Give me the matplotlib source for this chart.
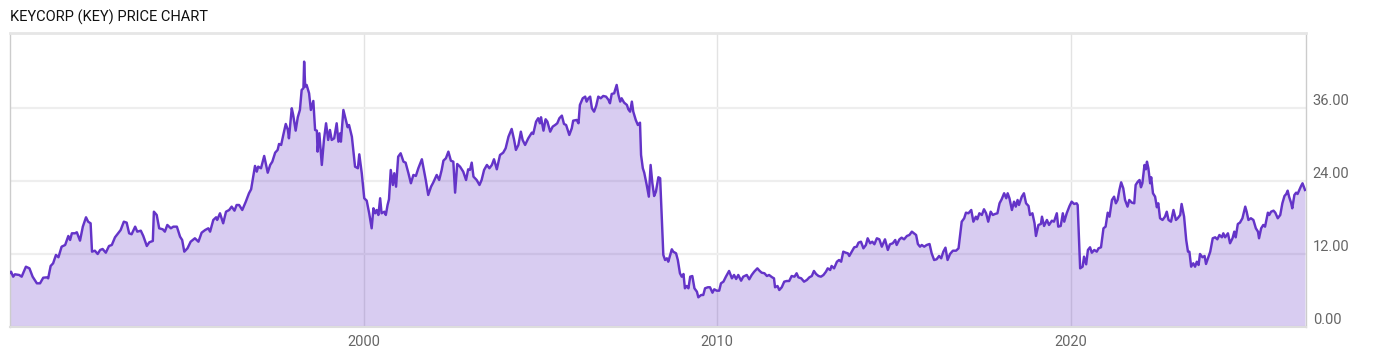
import numpy as np
import matplotlib
matplotlib.use("Agg")
import matplotlib.pyplot as plt

# --- KeyCorp price (decimal year, USD) ---
yrs_a = [1990.00, 1990.03, 1990.09, 1990.14, 1990.26, 1990.33, 1990.45, 1990.55, 1990.64, 1990.76,
         1990.85, 1990.94, 1991.04, 1991.08, 1991.15, 1991.22, 1991.30, 1991.37, 1991.46, 1991.56,
         1991.65, 1991.70, 1991.75, 1991.84, 1991.89, 1991.98, 1992.06, 1992.15, 1992.21, 1992.28,
         1992.32, 1992.40, 1992.48, 1992.55, 1992.62, 1992.71, 1992.80, 1992.88, 1992.97, 1993.06,
         1993.13, 1993.22, 1993.30, 1993.37, 1993.44, 1993.54, 1993.60, 1993.70, 1993.77, 1993.87,
         1993.94, 1994.04, 1994.07, 1994.15, 1994.22, 1994.32, 1994.38, 1994.45, 1994.55, 1994.62,
         1994.72, 1994.81, 1994.87, 1994.93, 1995.02, 1995.11, 1995.23, 1995.33, 1995.42, 1995.52,
         1995.61, 1995.66, 1995.75, 1995.83, 1995.86, 1995.94, 1996.03, 1996.11, 1996.20]
px_a = [8.90, 9.09, 8.27, 8.66, 8.55, 8.27, 9.91, 9.64, 8.27, 7.18,
        7.18, 8.10, 8.16, 8.00, 10.03, 10.47, 11.84, 11.46, 13.20, 13.48,
        14.96, 14.30, 15.40, 15.40, 15.57, 14.19, 16.49, 18.03, 17.31, 17.04,
        12.38, 12.54, 12.00, 12.66, 12.82, 12.21, 13.31, 13.48, 14.74, 15.40,
        15.94, 17.31, 17.15, 15.40, 15.24, 16.49, 15.67, 15.83, 14.96, 13.31,
        13.92, 14.14, 18.95, 18.41, 16.22, 16.06, 15.67, 16.77, 16.22, 16.49,
        16.49, 14.85, 14.30, 12.38, 12.93, 14.02, 14.58, 14.02, 15.50, 15.94,
        16.22, 15.67, 17.59, 18.03, 17.59, 18.69, 17.04, 18.95, 19.23]

yrs_b = [1996.27, 1996.35, 1996.41, 1996.48, 1996.57, 1996.67, 1996.76, 1996.82, 1996.88, 1996.93,
         1996.98, 1997.02, 1997.10, 1997.19, 1997.29, 1997.36, 1997.42, 1997.50, 1997.57, 1997.61,
         1997.67, 1997.73, 1997.80, 1997.86, 1997.89, 1997.97, 1998.01, 1998.08, 1998.14, 1998.20,
         1998.25, 1998.30, 1998.32, 1998.35, 1998.39, 1998.46, 1998.51, 1998.58, 1998.63, 1998.68,
         1998.70, 1998.75, 1998.82, 1998.88, 1998.94, 1999.00, 1999.05, 1999.10, 1999.17, 1999.24,
         1999.29, 1999.34, 1999.36, 1999.43, 1999.50, 1999.55, 1999.59, 1999.67, 1999.76, 1999.84,
         1999.88, 1999.95, 2000.02, 2000.09, 2000.16, 2000.23, 2000.28, 2000.33, 2000.37, 2000.42,
         2000.47, 2000.51, 2000.59, 2000.63, 2000.68, 2000.72, 2000.77, 2000.83, 2000.87, 2000.92,
         2000.98, 2001.05, 2001.13, 2001.19, 2001.27, 2001.34, 2001.41, 2001.48, 2001.55, 2001.65,
         2001.69, 2001.76, 2001.83, 2001.91, 2001.97, 2002.07, 2002.14]
px_b = [19.78, 19.12, 20.05, 20.05, 19.23, 20.60, 21.98, 22.63, 24.71, 26.47,
        25.53, 26.35, 26.09, 28.11, 25.36, 26.63, 27.17, 28.65, 29.10, 30.08,
        29.92, 31.56, 33.37, 32.38, 31.01, 35.95, 34.85, 32.27, 34.47, 35.67,
        38.96, 39.24, 43.61, 39.50, 39.78, 38.41, 35.67, 37.15, 32.38, 32.27,
        28.82, 31.84, 26.63, 30.74, 33.48, 30.74, 32.38, 30.74, 31.01, 33.48,
        30.46, 31.84, 30.46, 35.67, 34.03, 32.83, 33.20, 31.28, 26.35, 26.09,
        28.38, 25.27, 21.16, 20.76, 18.69, 16.22, 19.51, 18.69, 19.23, 18.41,
        21.16, 18.69, 18.95, 18.41, 20.05, 20.99, 25.81, 23.34, 25.27, 23.06,
        27.99, 28.55, 27.17, 27.01, 25.27, 23.62, 24.99, 24.82, 26.09, 27.57,
        26.35, 24.16, 21.70, 23.06, 23.72, 24.99, 24.16]

yrs_c = [2002.21, 2002.26, 2002.33, 2002.40, 2002.47, 2002.54, 2002.59, 2002.65, 2002.73, 2002.82,
         2002.90, 2002.96, 2003.01, 2003.06, 2003.11, 2003.20, 2003.28, 2003.34, 2003.41, 2003.49,
         2003.56, 2003.63, 2003.69, 2003.77, 2003.86, 2003.95, 2004.02, 2004.10, 2004.19, 2004.26,
         2004.31, 2004.38, 2004.45, 2004.50, 2004.57, 2004.66, 2004.76, 2004.80, 2004.88, 2004.94,
         2004.99, 2005.02, 2005.09, 2005.15, 2005.20, 2005.28, 2005.35, 2005.42, 2005.48, 2005.54,
         2005.61, 2005.67, 2005.73, 2005.82, 2005.89, 2005.93, 2006.03, 2006.08, 2006.12, 2006.20,
         2006.27, 2006.31, 2006.36, 2006.41, 2006.46, 2006.52, 2006.58, 2006.64, 2006.71, 2006.78,
         2006.86, 2006.93, 2006.97, 2007.02, 2007.09, 2007.11, 2007.16, 2007.21, 2007.26, 2007.30,
         2007.37, 2007.45, 2007.49, 2007.54, 2007.59, 2007.63, 2007.70, 2007.76, 2007.82, 2007.85,
         2007.90, 2007.94, 2008.01, 2008.07, 2008.12, 2008.17, 2008.22, 2008.27, 2008.34, 2008.39]
px_c = [25.80, 27.34, 27.73, 28.82, 27.34, 27.17, 22.08, 26.79, 26.35, 25.53,
        24.16, 25.92, 25.81, 27.01, 24.71, 24.16, 23.34, 24.16, 25.81, 26.63,
        26.09, 26.63, 27.57, 25.92, 28.27, 28.65, 29.37, 31.28, 32.55, 30.74,
        29.10, 29.92, 32.10, 30.74, 29.92, 31.01, 31.94, 31.73, 33.75, 34.31,
        33.48, 34.47, 32.27, 34.14, 33.75, 32.10, 32.93, 33.20, 33.48, 34.31,
        34.74, 33.37, 33.20, 31.56, 32.66, 33.91, 34.03, 33.48, 36.49, 37.59,
        37.86, 37.04, 37.59, 37.86, 35.95, 35.39, 36.33, 37.86, 37.59, 37.97,
        37.86, 37.31, 36.77, 38.30, 38.41, 38.84, 39.78, 38.14, 37.04, 37.59,
        36.88, 36.49, 35.78, 35.39, 37.04, 35.39, 34.03, 33.20, 33.58, 28.27,
        26.09, 25.36, 23.34, 21.42, 26.63, 23.62, 21.53, 22.24, 24.61, 24.44]

yrs_d = [2008.48, 2008.53, 2008.58, 2008.62, 2008.72, 2008.76, 2008.84, 2008.89, 2008.95, 2009.00,
         2009.05, 2009.09, 2009.14, 2009.19, 2009.24, 2009.30, 2009.36, 2009.43, 2009.47, 2009.55,
         2009.61, 2009.66, 2009.74, 2009.80, 2009.87, 2009.92, 2009.99, 2010.06, 2010.11, 2010.18,
         2010.25, 2010.34, 2010.42, 2010.48, 2010.54, 2010.60, 2010.68, 2010.74, 2010.84, 2010.91,
         2010.98, 2011.05, 2011.14, 2011.20, 2011.26, 2011.34, 2011.41, 2011.47, 2011.56, 2011.61,
         2011.64, 2011.71, 2011.76, 2011.83, 2011.90, 2011.97, 2012.04, 2012.11, 2012.19, 2012.25,
         2012.30, 2012.38, 2012.46, 2012.54, 2012.61, 2012.68, 2012.74, 2012.80, 2012.87, 2012.94,
         2013.01, 2013.08, 2013.13, 2013.20, 2013.24, 2013.31, 2013.39, 2013.45, 2013.51, 2013.57,
         2013.64, 2013.70, 2013.74, 2013.81, 2013.88, 2013.95, 2014.00, 2014.07, 2014.14, 2014.21,
         2014.26, 2014.33, 2014.39, 2014.45]
px_d = [11.84, 11.01, 11.29, 10.73, 12.77, 12.38, 12.11, 11.01, 8.83, 8.27,
        8.71, 6.36, 6.74, 6.36, 8.27, 8.38, 6.36, 5.80, 4.88, 5.26,
        5.26, 6.36, 6.53, 6.53, 5.64, 6.20, 5.97, 5.97, 7.18, 7.45,
        8.27, 9.21, 8.00, 8.55, 7.89, 8.55, 7.61, 8.27, 8.55, 7.84,
        8.55, 9.09, 9.64, 9.25, 8.93, 8.83, 8.38, 8.55, 8.16, 8.00,
        6.53, 6.74, 6.08, 6.53, 7.45, 7.56, 7.56, 8.38, 8.27, 8.83,
        8.16, 8.00, 7.45, 7.73, 8.16, 8.38, 9.21, 8.71, 8.38, 8.27,
        8.55, 9.09, 9.64, 9.37, 10.03, 9.64, 10.73, 11.01, 10.73, 12.38,
        12.21, 12.11, 11.67, 12.38, 13.10, 13.20, 13.86, 14.02, 12.93, 13.48,
        14.58, 13.76, 14.02, 13.60]

yrs_e = [2014.52, 2014.59, 2014.66, 2014.75, 2014.83, 2014.89, 2014.97, 2015.04, 2015.08, 2015.16,
         2015.22, 2015.29, 2015.37, 2015.44, 2015.51, 2015.57, 2015.63, 2015.68, 2015.74, 2015.79,
         2015.86, 2015.93, 2016.01, 2016.07, 2016.14, 2016.21, 2016.28, 2016.34, 2016.40, 2016.46,
         2016.52, 2016.59, 2016.67, 2016.76, 2016.83, 2016.87, 2016.92, 2016.99, 2017.04, 2017.11,
         2017.19, 2017.25, 2017.32, 2017.36, 2017.42, 2017.49, 2017.55, 2017.61, 2017.67, 2017.74,
         2017.80, 2017.86, 2017.93, 2017.99, 2018.05, 2018.12, 2018.18, 2018.22, 2018.27, 2018.34,
         2018.40, 2018.45, 2018.50, 2018.54, 2018.62, 2018.68, 2018.74, 2018.81, 2018.85, 2018.92,
         2018.98, 2019.02, 2019.09, 2019.16, 2019.19, 2019.25, 2019.33, 2019.39, 2019.47, 2019.53,
         2019.61, 2019.65, 2019.72, 2019.78, 2019.82, 2019.89, 2019.97, 2020.03, 2020.10, 2020.17,
         2020.20]
px_e = [14.58, 14.41, 13.20, 14.41, 12.66, 13.59, 13.76, 14.30, 13.48, 14.41,
        14.68, 14.41, 14.96, 15.12, 15.67, 15.40, 15.12, 13.64, 13.20, 13.48,
        13.20, 13.48, 13.64, 12.11, 11.01, 11.13, 11.67, 11.29, 12.38, 13.04,
        11.01, 12.00, 12.54, 12.54, 12.93, 14.85, 17.31, 17.87, 18.79, 18.69,
        19.23, 17.31, 18.13, 17.70, 18.69, 18.41, 19.35, 18.69, 17.31, 18.95,
        18.41, 18.57, 18.69, 20.33, 20.99, 21.98, 21.16, 21.98, 21.16, 19.23,
        20.60, 19.78, 20.88, 20.05, 21.42, 21.98, 20.33, 19.89, 18.41, 18.69,
        17.04, 14.96, 16.77, 16.93, 18.13, 16.60, 17.59, 16.77, 17.47, 17.31,
        18.69, 16.49, 16.60, 18.69, 17.31, 18.69, 19.89, 20.60, 20.22, 20.33,
        20.05]

yrs_f = [2020.27, 2020.34, 2020.38, 2020.44, 2020.49, 2020.55, 2020.60, 2020.67, 2020.74, 2020.79,
         2020.86, 2020.93, 2020.99, 2021.05, 2021.10, 2021.17, 2021.23, 2021.28, 2021.33, 2021.38,
         2021.43, 2021.49, 2021.54, 2021.61, 2021.66, 2021.73, 2021.80, 2021.84, 2021.90, 2021.95,
         2021.99, 2022.03, 2022.09, 2022.13, 2022.16, 2022.20, 2022.25, 2022.28, 2022.33, 2022.39,
         2022.44, 2022.48, 2022.53, 2022.60, 2022.67, 2022.72, 2022.77, 2022.84, 2022.91, 2022.98,
         2023.03, 2023.10, 2023.14, 2023.21, 2023.27, 2023.32, 2023.36, 2023.41, 2023.47, 2023.52,
         2023.57, 2023.62, 2023.66, 2023.73, 2023.79, 2023.83, 2023.90, 2023.95, 2024.02, 2024.09,
         2024.15, 2024.21, 2024.28, 2024.32, 2024.37, 2024.45, 2024.51, 2024.58, 2024.63, 2024.67,
         2024.73, 2024.79, 2024.86, 2024.94, 2024.98, 2025.03, 2025.10, 2025.17, 2025.24, 2025.30,
         2025.33, 2025.39, 2025.45, 2025.50, 2025.58, 2025.62, 2025.67, 2025.74, 2025.79, 2025.86,
         2025.93, 2025.99, 2026.05, 2026.10, 2026.14, 2026.18, 2026.24, 2026.27, 2026.33, 2026.38,
         2026.42, 2026.47, 2026.52, 2026.56, 2026.63]
px_f = [9.64, 9.91, 11.56, 10.30, 12.66, 13.10, 12.21, 12.66, 12.38, 12.93,
        13.10, 16.22, 16.49, 18.79, 18.13, 20.88, 21.42, 20.33, 20.88, 22.52,
        23.78, 22.79, 20.88, 19.78, 20.88, 20.44, 20.33, 23.34, 23.88, 24.16,
        22.96, 23.62, 26.63, 25.92, 27.17, 26.09, 23.62, 24.61, 21.98, 21.42,
        19.68, 20.33, 17.87, 17.59, 18.13, 18.95, 17.59, 17.31, 19.23, 17.59,
        17.87, 18.41, 20.22, 18.13, 14.30, 12.38, 12.38, 9.91, 10.47, 9.91,
        10.73, 10.19, 12.00, 11.46, 11.67, 10.36, 11.56, 12.38, 14.58, 14.74,
        14.41, 15.12, 14.74, 15.40, 14.74, 15.40, 13.76, 14.58, 15.67, 14.74,
        16.93, 17.15, 17.87, 19.78, 18.95, 17.59, 17.87, 17.59, 16.22, 15.67,
        14.58, 16.22, 16.77, 16.49, 18.79, 18.41, 18.95, 19.12, 18.79, 17.87,
        18.41, 20.33, 21.53, 21.86, 22.41, 21.42, 20.33, 19.51, 21.70, 22.08,
        21.86, 22.52, 23.18, 23.62, 22.52]

x_ticks = [2000, 2010, 2020]
x_tick_labels = ["2000", "2010", "2020"]
y_ticks = [0, 12, 24, 36]
y_tick_labels = ["0.00", "12.00", "24.00", "36.00"]

years = np.concatenate([yrs_a, yrs_b, yrs_c, yrs_d, yrs_e, yrs_f])
prices = np.concatenate([px_a, px_b, px_c, px_d, px_e, px_f])

line_col = "#6434c8"
label_font = ["Roboto", "DejaVu Sans"]

fig = plt.figure(figsize=(14, 3.57), dpi=100)
ax = fig.add_axes([10 / 1400, 30 / 357, 1295.7 / 1400, 294.5 / 357])

ax.fill_between(years, prices, 0, color=line_col, alpha=0.25, lw=0, zorder=1)
ax.plot(years, prices, color=line_col, lw=1.75, zorder=3, solid_joinstyle="round")

ax.set_xlim(1990.0, 2026.65)
ax.set_ylim(0, 48.4)

ax.set_axisbelow(True)
ax.set_xticks(x_ticks)
ax.set_xticklabels(x_tick_labels)
ax.set_yticks(y_ticks)
ax.set_yticklabels(y_tick_labels)
ax.yaxis.tick_right()
ax.grid(axis="y", color="#eeeeee", lw=1.6)
ax.grid(axis="x", color="#e3e3e3", lw=1.0)
ax.tick_params(axis="both", length=0, labelsize=10.5, labelcolor="#666666")
ax.tick_params(axis="y", pad=5)
ax.tick_params(axis="x", pad=6)
for lab in ax.get_yticklabels():
    lab.set_verticalalignment("bottom")
    lab.set_family(label_font)
for lab in ax.get_xticklabels():
    lab.set_family(label_font)

ax.spines["left"].set_color("#cccccc")
ax.spines["left"].set_linewidth(1.0)
ax.spines["right"].set_color("#cccccc")
ax.spines["right"].set_linewidth(1.0)
ax.spines["top"].set_color("#e6e6e6")
ax.spines["top"].set_linewidth(2.0)
ax.spines["bottom"].set_color("#dddddd")
ax.spines["bottom"].set_linewidth(1.5)

fig.text(10 / 1400, 1 - 17 / 357, "KEYCORP (KEY) PRICE CHART", ha="left", va="center",
         fontsize=10.5, color="#111111", family=label_font)

fig.savefig("out.png", dpi=100)
